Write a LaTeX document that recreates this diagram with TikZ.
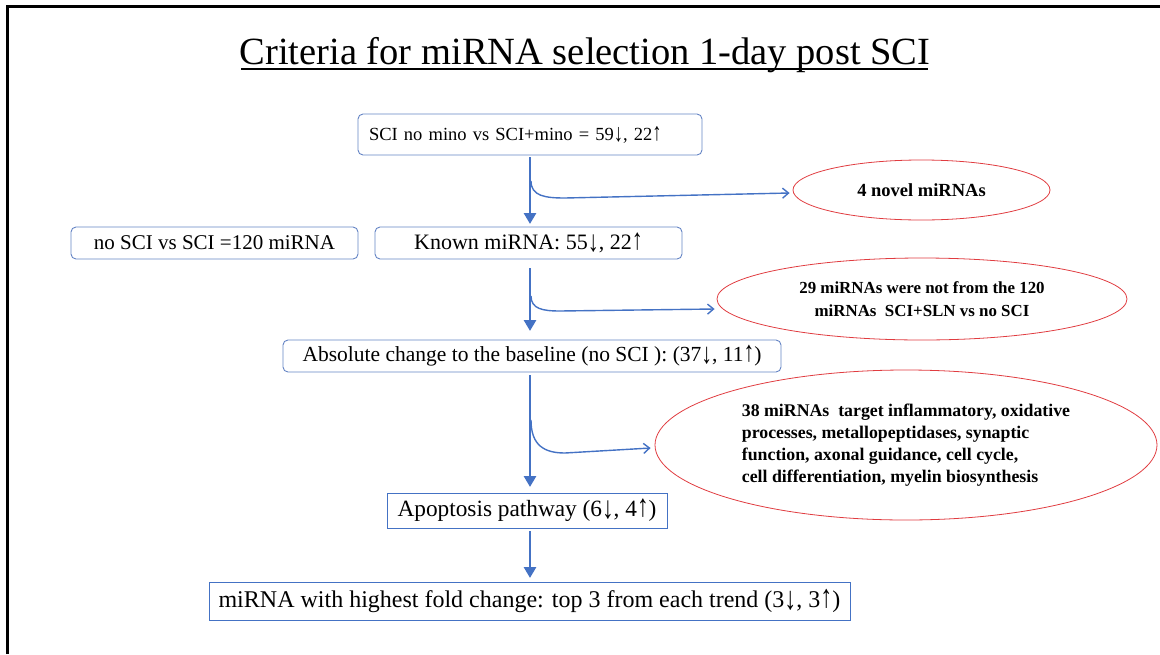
\documentclass[tikz,border=0pt]{standalone}
\usepackage{fontspec}
\setmainfont{Liberation Serif}
\usetikzlibrary{calc,shapes.geometric,arrows.meta}

\definecolor{flowblue}{RGB}{68,114,196}
\definecolor{boxblue}{RGB}{100,132,196}
\definecolor{ovalred}{RGB}{224,60,64}

\newcommand{\fs}[1]{\fontsize{#1}{#1}\selectfont}
% taller, slender trend arrows
\newcommand{\dn}{\raisebox{-0.08em}{\scalebox{1}[1.35]{↓}}}
\newcommand{\upw}{\scalebox{1}[1.35]{↑}}

\tikzset{
  roundbox/.style={draw=boxblue, line width=0.9pt, rounded corners=5pt,
    inner sep=0pt, align=center},
  squarebox/.style={draw=flowblue, line width=0.9pt, inner sep=0pt,
    align=center},
  oval/.style={draw=ovalred, line width=0.8pt, ellipse, inner sep=0pt},
  mainflow/.style={draw=flowblue, line width=2.8pt,
    -{Triangle[length=11pt,width=12pt]}},
  sideflow/.style={draw=flowblue, line width=1.4pt,
    -{Straight Barb[length=6pt,width=10pt]}},
}

\begin{document}
\begin{tikzpicture}[x=1pt,y=-1pt]
\useasboundingbox (0,0) rectangle (1160,654);

% slide frame (left and top edges)
\draw[line width=3pt] (7,654) -- (7,6) -- (1160,6);

% title
\node[anchor=base, inner sep=0pt] (title) at (585,64)
  {\fs{38.5}Criteria for miRNA selection 1-day post SCI};
\draw[line width=1.2pt] (241,69) -- (928,69);

% boxes
\node[roundbox, minimum width=344pt, minimum height=41pt, text width=322pt, align=left,
  font=\fs{18.5}] (b1) at (530,134.5) {SCI no mino vs SCI+mino = 59\dn, 22\upw};
\node[roundbox, minimum width=287pt, minimum height=32pt, font=\fs{21}]
  (b0) at (214.5,243) {no SCI vs SCI =120 miRNA};
\node[roundbox, minimum width=307pt, minimum height=32pt, font=\fs{22}]
  (b2) at (528.5,243) {Known miRNA: 55\dn, 22\upw};
\node[roundbox, minimum width=498pt, minimum height=32pt, font=\fs{21.5}]
  (b3) at (532,356) {Absolute change to the baseline (no SCI ): (37\dn, 11\upw)};
\node[squarebox, minimum width=280pt, minimum height=35pt, font=\fs{23.3}]
  (b4) at (527,510.5) {Apoptosis pathway (6\dn, 4\upw)};
\node[squarebox, minimum width=641pt, minimum height=38pt, font=\fs{24}]
  (b5) at (529.5,601) {miRNA with highest fold change: top 3 from each trend (3\dn, 3\upw)};

% ovals
\node[oval, minimum width=257pt, minimum height=60pt, font=\bfseries\fs{18.5}]
  (e1) at (921.5,190) {4 novel miRNAs};
\node[oval, minimum width=410pt, minimum height=82pt, align=center,
  font=\bfseries\fontsize{16.9}{23}\selectfont] (e2) at (922,299)
  {29 miRNAs were not from the 120\\miRNAs\ \ SCI+SLN vs no SCI};
\node[oval, minimum width=502pt, minimum height=150pt, align=left,
  font=\bfseries\fontsize{17.8}{22}\selectfont] (e3) at (906,445)
  {38 miRNAs\ \ target inflammatory,\ oxidative\\processes, metallopeptidases,\ synaptic\\function,\ axonal guidance,\ cell cycle,\\cell differentiation,\ myelin\ biosynthesis};

% main flow
\coordinate (s1) at (530,157);
\coordinate (t1) at (530,224);
\coordinate (s2) at (530,268);
\coordinate (t2) at (530,331);
\coordinate (s3) at (530,375);
\coordinate (t3) at (530,487);
\coordinate (s4) at (530,531);
\coordinate (t4) at (530,578);
\draw[mainflow] (s1) -- (t1);
\draw[mainflow] (s2) -- (t2);
\draw[mainflow] (s3) -- (t3);
\draw[mainflow] (s4) -- (t4);

% side branches
\coordinate (k1) at (531,181);
\coordinate (m1) at (565,198);
\draw[sideflow] (k1) .. controls (531,196) and (545,198) .. (m1) -- ($(e1.west)+(-3,3)$);
\coordinate (k2) at (531,296);
\coordinate (m2) at (560,311);
\draw[sideflow] (k2) .. controls (531,309) and (543,311) .. (m2) -- ($(e2.west)+(-2,10)$);
\coordinate (k3) at (531,420);
\coordinate (m3) at (565,453);
\draw[sideflow] (k3) .. controls (531,446) and (545,453) .. (m3) -- ($(e3.west)+(-4,3)$);
\end{tikzpicture}
\end{document}
